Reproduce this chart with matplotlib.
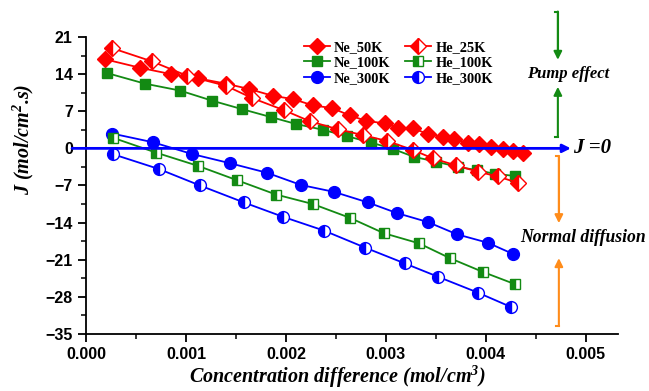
import matplotlib
matplotlib.use('Agg')
import matplotlib.pyplot as plt
from matplotlib.ticker import MultipleLocator, FormatStrFormatter

# data
ne50_x = [0.00019, 0.00054, 0.00085, 0.00112, 0.00140, 0.00163, 0.00187, 0.00207,
          0.00227, 0.00246, 0.00264, 0.00280, 0.00299, 0.00312, 0.00327, 0.00342,
          0.00357, 0.00368, 0.00382, 0.00393, 0.00405, 0.00417, 0.00427, 0.00437]
ne50_y = [16.8, 15.2, 14.0, 13.2, 12.2, 11.2, 9.9, 9.3, 8.1, 7.6, 6.2, 5.2,
          4.7, 3.9, 3.8, 2.7, 2.2, 1.8, 1.0, 0.8, 0.3, -0.1, -0.5, -0.9]
he25_x = [0.00026, 0.00066, 0.00101, 0.00140, 0.00166, 0.00198, 0.00224, 0.00252,
          0.00277, 0.00301, 0.00327, 0.00347, 0.00370, 0.00392, 0.00412, 0.00432]
he25_y = [18.9, 16.4, 13.7, 11.8, 9.5, 7.2, 5.1, 3.6, 2.5, 1.4, -0.3, -1.9,
          -3.2, -4.4, -5.3, -6.5]
ne100_x = [0.00021, 0.00059, 0.00094, 0.00126, 0.00156, 0.00185, 0.00210, 0.00237,
           0.00261, 0.00285, 0.00307, 0.00328, 0.00350, 0.00372, 0.00391, 0.00409,
           0.00429]
ne100_y = [14.2, 12.2, 10.9, 9.0, 7.4, 5.9, 4.6, 3.5, 2.3, 1.1, -0.1, -1.6,
           -2.5, -3.5, -4.1, -4.8, -5.2]
ne300_x = [0.00026, 0.00067, 0.00106, 0.00144, 0.00181, 0.00215, 0.00248, 0.00282,
           0.00311, 0.00342, 0.00371, 0.00402, 0.00427]
ne300_y = [2.8, 1.15, -1.06, -2.8, -4.6, -6.9, -8.2, -10.2, -12.2, -13.9,
           -16.2, -17.8, -19.9]
he100_x = [0.00027, 0.00070, 0.00112, 0.00151, 0.00190, 0.00227, 0.00264, 0.00298,
           0.00333, 0.00364, 0.00397, 0.00429]
he100_y = [2.0, -0.8, -3.3, -6.0, -8.7, -10.5, -13.1, -16.0, -17.9, -20.7,
           -23.3, -25.6]
he300_x = [0.00027, 0.00073, 0.00114, 0.00158, 0.00197, 0.00238, 0.00279, 0.00319,
           0.00352, 0.00392, 0.00425]
he300_y = [-1.1, -3.9, -7.0, -10.2, -12.9, -15.5, -18.7, -21.7, -24.2, -27.2, -29.9]

RED, GREEN, BLUE, ORANGE = '#ff0000', '#138a13', '#0000ff', '#ff8c1a'
SERIF = 'Liberation Serif'

plt.rcParams['font.family'] = 'Liberation Sans'
plt.rcParams['font.weight'] = 'bold'
plt.rcParams['mathtext.fontset'] = 'custom'
plt.rcParams['mathtext.it'] = 'Liberation Serif:italic:bold'
plt.rcParams['mathtext.rm'] = 'Liberation Serif:italic:bold'

fig = plt.figure(figsize=(6.49, 3.91), dpi=100)
ax = fig.add_axes([0.1325, 0.1458, 0.8195, 0.7596])

series = [
    ('Ne_50K', ne50_x, ne50_y, RED, 'D', 'full', 8.5),
    ('Ne_100K', ne100_x, ne100_y, GREEN, 's', 'full', 7.5),
    ('Ne_300K', ne300_x, ne300_y, BLUE, 'o', 'full', 8.5),
    ('He_25K', he25_x, he25_y, RED, 'D', 'left', 8.5),
    ('He_100K', he100_x, he100_y, GREEN, 's', 'left', 7.5),
    ('He_300K', he300_x, he300_y, BLUE, 'o', 'left', 8.5),
]
for name, xs, ys, c, m, fs, ms in series:
    ax.plot(xs, ys, color=c, lw=1.3, marker=m, ms=ms, fillstyle=fs,
            markerfacecolor=c, markerfacecoloralt='white', markeredgecolor=c,
            markeredgewidth=1.0, label=name)

ax.set_xlim(0, 0.00532)
ax.set_ylim(-35, 21)
ax.xaxis.set_major_locator(MultipleLocator(0.001))
ax.xaxis.set_minor_locator(MultipleLocator(0.0005))
ax.yaxis.set_major_locator(MultipleLocator(7))
ax.yaxis.set_minor_locator(MultipleLocator(3.5))
ax.xaxis.set_major_formatter(FormatStrFormatter('%.3f'))
ax.tick_params(which='major', direction='out', length=6, width=1.3, labelsize=11.5)
ax.tick_params(which='minor', direction='out', length=3.5, width=1.1)
for s in ('top', 'right'):
    ax.spines[s].set_visible(False)
for s in ('left', 'bottom'):
    ax.spines[s].set_linewidth(1.3)

ax.set_xlabel('Concentration difference (mol/cm$^3$)', family=SERIF,
              style='italic', weight='bold', fontsize=14.5)
ax.xaxis.set_label_coords(0.472, -0.1)
ax.xaxis.label.set_va('top')
ax.set_ylabel('J (mol/cm$^2$.s)', family=SERIF, style='italic',
              weight='bold', fontsize=14.5)
ax.yaxis.set_label_coords(-0.094, 0.657)

h, l = ax.get_legend_handles_labels()
ax.legend(h, l, ncol=2, loc='upper left', bbox_to_anchor=(0.385, 1.03),
          frameon=False, handlelength=1.8, columnspacing=1.0, labelspacing=0.15,
          handletextpad=0.3, prop={'family': SERIF, 'weight': 'bold', 'size': 10.4})

# J = 0 arrow
ax.annotate('', xy=(0.00485, 0), xytext=(-0.00014, 0), annotation_clip=False,
            arrowprops=dict(arrowstyle='-|>', color=BLUE, lw=2, mutation_scale=12,
                            shrinkA=0, shrinkB=0))
ax.text(0.00487, 0, 'J =0', family=SERIF, style='italic', weight='bold',
        fontsize=15, va='center', ha='left', clip_on=False)


def bracket(x, y_top, y_tip1, y_tail2, y_tip2, color):
    ax.plot([x - 0.00003, x, x], [y_top, y_top, y_tip1 + 1], color=color, lw=1.5,
            clip_on=False)
    ax.annotate('', xy=(x, y_tip1), xytext=(x, y_top), annotation_clip=False,
                arrowprops=dict(arrowstyle='-|>', color=color, lw=1.5,
                                mutation_scale=12, shrinkA=0, shrinkB=0))
    ax.plot([x - 0.00003, x], [y_tail2, y_tail2], color=color, lw=1.5, clip_on=False)
    ax.annotate('', xy=(x, y_tip2), xytext=(x, y_tail2), annotation_clip=False,
                arrowprops=dict(arrowstyle='-|>', color=color, lw=1.5,
                                mutation_scale=12, shrinkA=0, shrinkB=0))


# pump effect / normal diffusion brackets
bracket(0.00472, 25.8, 16.7, 2.15, 11.6, GREEN)
bracket(0.00473, -1.43, -14.1, -33.5, -20.7, ORANGE)
ax.text(0.00482, 14.0, 'Pump effect', family=SERIF, style='italic', weight='bold',
        fontsize=12, ha='center', va='center', clip_on=False)
ax.text(0.00497, -16.9, 'Normal diffusion', family=SERIF, style='italic',
        weight='bold', fontsize=12.7, ha='center', va='center', clip_on=False)

fig.savefig('out.png', dpi=100)
